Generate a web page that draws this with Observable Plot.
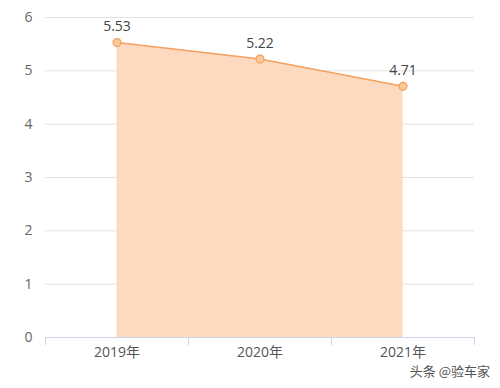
<!DOCTYPE html>
<html>
<head>
<meta charset="utf-8">
<script src="https://cdn.jsdelivr.net/npm/d3@7"></script>
<script src="https://cdn.jsdelivr.net/npm/@observablehq/plot@0.6"></script>
<style>
  html, body { margin: 0; padding: 0; background: #fff; }
  #wrap { position: relative; width: 500px; height: 388px; font-family: "Open Sans", "Noto Sans CJK SC", sans-serif; }
  #mark { position: absolute; right: 10px; bottom: 8px; font-size: 13px; color: #555; font-family: "Noto Sans CJK SC", sans-serif; }
</style>
</head>
<body>
<div id="wrap"><div id="mark">头条 @验车家</div></div>
<script>
const years = [2019, 2020, 2021];
const yearLabels = ["2019年", "2020年", "2021年"];
const values = [5.53, 5.22, 4.71];
const yTicks = [0, 1, 2, 3, 4, 5, 6];

const data = years.map((yr, i) => ({year: yr, value: values[i]}));
const bounds = years.map(y => y - 0.5).concat([years[years.length - 1] + 0.5]);

const chart = Plot.plot({
  width: 500,
  height: 388,
  marginLeft: 45,
  marginRight: 26,
  marginTop: 17,
  marginBottom: 51,
  style: {fontFamily: '"Open Sans", "Noto Sans CJK SC", sans-serif', fontSize: "12px", background: "#fff"},
  x: {type: "linear", domain: [bounds[0], bounds[bounds.length - 1]]},
  y: {domain: [0, 6]},
  marks: [
    Plot.gridY(yTicks, {stroke: "#e3e3e3", strokeOpacity: 1}),
    Plot.axisY(yTicks, {tickSize: 0, tickPadding: 13, fill: "#666", fontSize: 14, tickFormat: d => String(d), label: null}),
    Plot.areaY(data, {x: "year", y: "value", fill: "#fdd9c0", fillOpacity: 1}),
    Plot.ruleY([0], {stroke: "#ccd6eb"}),
    Plot.axisX(bounds, {tickSize: 8, stroke: "#ccd6eb", tickFormat: () => "", label: null}),
    Plot.axisX(years, {tickSize: 0, tickPadding: 10, fill: "#555", fontSize: 14, tickFormat: (d) => yearLabels[years.indexOf(d)], label: null}),
    Plot.line(data, {x: "year", y: "value", stroke: "#f2a160", strokeWidth: 1.5}),
    Plot.dot(data, {x: "year", y: "value", r: 4, fill: "#fbc898", stroke: "#f0a05c", strokeWidth: 1.2}),
    Plot.text(data, {x: "year", y: "value", text: d => d.value.toFixed(2), dy: -16, fill: "#444", fontSize: 14})
  ]
});
document.getElementById("wrap").prepend(chart);
</script>
</body>
</html>
